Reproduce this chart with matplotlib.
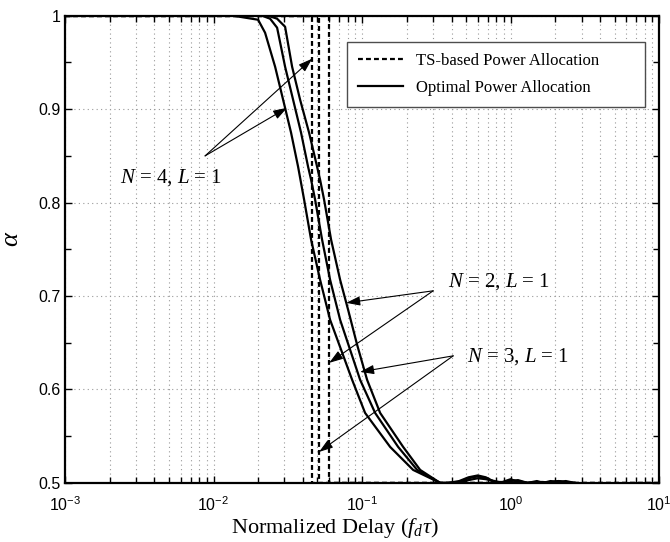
import matplotlib
matplotlib.use("Agg")
import matplotlib.pyplot as plt
from matplotlib.ticker import LogLocator, LogFormatterSciNotation, MultipleLocator, NullFormatter, FixedLocator
from matplotlib.lines import Line2D

plt.rcParams['font.family'] = ['Liberation Sans', 'DejaVu Sans']
plt.rcParams['mathtext.fontset'] = 'custom'
plt.rcParams['mathtext.rm'] = 'Liberation Serif'
plt.rcParams['mathtext.it'] = 'Liberation Serif:italic'
plt.rcParams['mathtext.bf'] = 'Liberation Serif:bold'
plt.rcParams['axes.unicode_minus'] = False

# Optimal power allocation: alpha versus normalized delay f_d*tau
tail_delay = [0.38, 0.45, 0.52, 0.6, 0.68, 0.78, 0.88, 1.0, 1.12, 1.3, 1.5, 1.65, 1.85, 2.1, 2.35, 2.7]

delay_n4 = [0.001, 0.01353, 0.01994, 0.02222, 0.02596, 0.02938, 0.03325, 0.03707, 0.04070,
            0.04535, 0.05214, 0.06089, 0.07222, 0.08565, 0.1047, 0.1544, 0.2205, 0.3352] + tail_delay
alpha_n4 = [1.0, 1.0, 0.9957, 0.9818, 0.9454, 0.9101, 0.8747, 0.8383, 0.8030,
            0.7602, 0.7173, 0.6745, 0.6424, 0.6103, 0.5749, 0.5385, 0.5139, 0.500,
            0.500, 0.502, 0.506, 0.508, 0.506, 0.501, 0.500, 0.503, 0.502, 0.500, 0.502, 0.500, 0.501, 0.502, 0.501, 0.500]

delay_n3 = [0.001, 0.02121, 0.02402, 0.02677, 0.03030, 0.03430, 0.03882, 0.04328, 0.04535, 0.04826,
            0.05378, 0.06089, 0.07111, 0.08304, 0.09694, 0.1223, 0.1748, 0.2346, 0.3352] + tail_delay
alpha_n3 = [1.0, 1.0, 0.9968, 0.9872, 0.9454, 0.9101, 0.8747, 0.8383, 0.8244, 0.8030,
            0.7602, 0.7173, 0.6745, 0.6424, 0.6103, 0.5749, 0.5385, 0.5139, 0.500,
            0.500, 0.501, 0.505, 0.507, 0.505, 0.501, 0.501, 0.504, 0.501, 0.500, 0.501, 0.500, 0.502, 0.501, 0.502, 0.500]

delay_n2 = [0.001, 0.02328, 0.02677, 0.03030, 0.03378, 0.03824, 0.04396, 0.04977, 0.05214, 0.05547,
            0.06183, 0.07111, 0.08049, 0.09253, 0.1080, 0.1322, 0.1889, 0.2458, 0.3352] + tail_delay
alpha_n2 = [1.0, 1.0, 0.9968, 0.9882, 0.9454, 0.9101, 0.8747, 0.8383, 0.8244, 0.8030,
            0.7602, 0.7173, 0.6852, 0.6478, 0.6103, 0.5749, 0.5385, 0.5139, 0.500,
            0.500, 0.500, 0.503, 0.505, 0.504, 0.502, 0.500, 0.502, 0.503, 0.500, 0.501, 0.501, 0.500, 0.502, 0.500, 0.500]

# TS-based power allocation: switching thresholds for N = 4, 3, 2
ts_threshold = [0.0461, 0.0513, 0.0600]
ts_levels = [1.0, 0.5]

fig = plt.figure(figsize=(6.7, 5.42), dpi=100)
ax = fig.add_axes([0.097, 0.109, 0.887, 0.862])

dash = (0, (2.2, 1.4))
for th in ts_threshold:
    ax.plot([1e-3, th, th, 10], [ts_levels[0], ts_levels[0], ts_levels[1], ts_levels[1]],
            color='k', lw=1.6, linestyle=dash)

for d, a in [(delay_n4, alpha_n4), (delay_n3, alpha_n3), (delay_n2, alpha_n2)]:
    ax.plot(d, a, color='k', lw=1.6, solid_joinstyle='round')

ax.set_xscale('log')
ax.set_xlim(1e-3, 10)
ax.set_ylim(0.5, 1.0)
ax.xaxis.set_major_locator(LogLocator(base=10, numticks=10))
ax.xaxis.set_minor_locator(LogLocator(base=10, subs=range(2, 10), numticks=20))
ax.xaxis.set_major_formatter(LogFormatterSciNotation())
ax.xaxis.set_minor_formatter(NullFormatter())
ax.yaxis.set_major_locator(FixedLocator([0.5, 0.6, 0.7, 0.8, 0.9, 1.0]))
ax.set_yticklabels(['0.5', '0.6', '0.7', '0.8', '0.9', '1'])
ax.yaxis.set_minor_locator(MultipleLocator(0.05))

ax.grid(True, which='major', axis='both', color='0.6', linestyle=(0, (1, 3)), lw=0.8)
ax.grid(True, which='minor', axis='x', color='0.6', linestyle=(0, (1, 3)), lw=0.8)

ax.tick_params(which='both', direction='in', top=True, right=True, labelsize=11.5, width=1.0)
ax.tick_params(which='major', length=5)
ax.tick_params(which='minor', length=4)
ax.tick_params(axis='x', which='major', pad=9)
ax.tick_params(axis='y', which='major', pad=3)
for s in ax.spines.values():
    s.set_linewidth(1.6)

ax.set_xlabel(r'Normalized Delay ($f_d\tau$)', family='Liberation Serif', fontsize=16)
ax.xaxis.set_label_coords(0.4545, -0.070)
ax.set_ylabel(r'$\alpha$', fontsize=19)
ax.yaxis.set_label_coords(-0.070, 0.522)

handles = [Line2D([], [], color='k', lw=1.6, linestyle=dash),
           Line2D([], [], color='k', lw=1.6)]
leg = ax.legend(handles, ['TS-based Power Allocation', 'Optimal Power Allocation'],
                loc='upper left', bbox_to_anchor=(0.4747, 0.7816, 0.5017, 0.1627), mode='expand',
                borderaxespad=0, prop={'family': 'Liberation Serif', 'size': 12}, fancybox=False,
                framealpha=1, edgecolor='0.3', handlelength=2.7, borderpad=0.65,
                labelspacing=0.7, handletextpad=0.8)
leg.get_frame().set_linewidth(1.0)

arrow = dict(arrowstyle='-|>,head_length=0.6,head_width=0.2', color='k', lw=0.8,
             mutation_scale=14, shrinkA=0, shrinkB=0)
lbl = dict(fontsize=15, va='center', family='Liberation Serif')

ax.annotate('', xy=(0.0461, 0.954), xytext=(0.00877, 0.850), arrowprops=arrow)
ax.annotate('', xy=(0.03126, 0.9015), xytext=(0.00877, 0.850), arrowprops=arrow)
ax.text(0.01141, 0.8266, r'$N$ = 4, $L$ = 1', ha='right', **lbl)

ax.annotate('', xy=(0.0781, 0.6927), xytext=(0.3007, 0.7056), arrowprops=arrow)
ax.annotate('', xy=(0.0600, 0.6285), xytext=(0.3007, 0.7056), arrowprops=arrow)
ax.text(0.3794, 0.7152, r'$N$ = 2, $L$ = 1', ha='left', **lbl)

ax.annotate('', xy=(0.0969, 0.6188), xytext=(0.4101, 0.636), arrowprops=arrow)
ax.annotate('', xy=(0.0513, 0.5332), xytext=(0.4101, 0.636), arrowprops=arrow)
ax.text(0.5095, 0.6349, r'$N$ = 3, $L$ = 1', ha='left', **lbl)

fig.savefig('out.png', dpi=100)
